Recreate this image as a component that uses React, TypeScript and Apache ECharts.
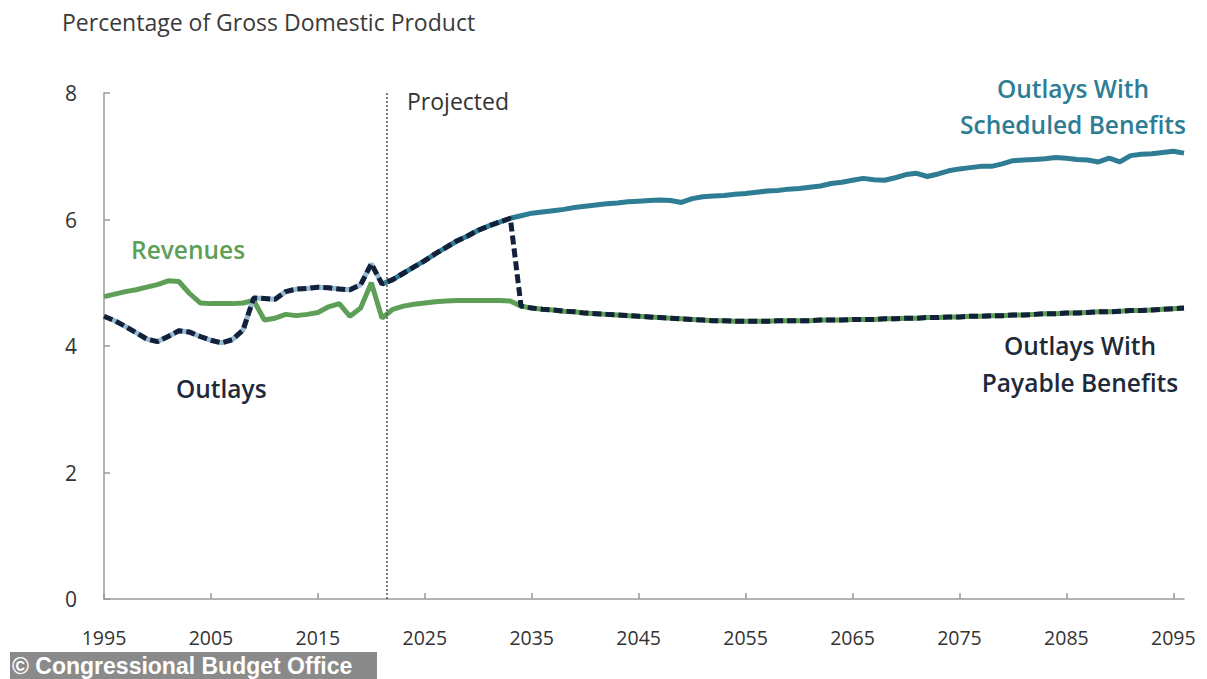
import React, { useEffect, useRef } from "react";
import * as echarts from "echarts";

// ---- data (percentage of GDP) ----
const FIRST_YEAR = 1995;
const LAST_HIST_YEAR = 2021;
const EXHAUST_YEAR = 2034;
const LAST_YEAR = 2096;
const PROJECTED_AT = 2021.4;

const xTickYears = [1995, 2005, 2015, 2025, 2035, 2045, 2055, 2065, 2075, 2085, 2095];
const yTicks = [0, 2, 4, 6, 8];

// 1995–2021
const outlaysHistorical = [
  4.47, 4.4, 4.31, 4.21, 4.11, 4.07, 4.15, 4.24, 4.22, 4.15,
  4.09, 4.05, 4.1, 4.25, 4.76, 4.75, 4.74, 4.86, 4.9, 4.91,
  4.93, 4.92, 4.9, 4.89, 4.97, 5.3, 4.98,
];

// 2022–2096
const scheduledProjected = [
  5.05, 5.15, 5.25, 5.35, 5.46, 5.56, 5.66, 5.74, 5.83, 5.9,
  5.96, 6.02, 6.06, 6.1, 6.12, 6.14, 6.16, 6.19, 6.21, 6.23,
  6.25, 6.26, 6.28, 6.29, 6.3, 6.31, 6.3, 6.27, 6.33, 6.36,
  6.37, 6.38, 6.4, 6.41, 6.43, 6.45, 6.46, 6.48, 6.49, 6.51,
  6.53, 6.57, 6.59, 6.62, 6.65, 6.63, 6.62, 6.66, 6.71, 6.73,
  6.68, 6.72, 6.77, 6.8, 6.82, 6.84, 6.84, 6.88, 6.93, 6.94,
  6.95, 6.96, 6.98, 6.97, 6.95, 6.94, 6.91, 6.97, 6.91, 7.01,
  7.03, 7.04, 7.06, 7.08, 7.05,
];

// 1995–2033
const revenuesToExhaustion = [
  4.78, 4.82, 4.86, 4.89, 4.93, 4.97, 5.03, 5.02, 4.83, 4.68,
  4.67, 4.67, 4.67, 4.68, 4.72, 4.41, 4.44, 4.5, 4.48, 4.5,
  4.53, 4.62, 4.67, 4.47, 4.6, 5.0, 4.44, 4.58, 4.63, 4.66,
  4.68, 4.7, 4.71, 4.72, 4.72, 4.72, 4.72, 4.72, 4.71,
];

// 2034–2096 (payable benefits = revenues)
const payableFromExhaustion = [
  4.63, 4.6, 4.58, 4.57, 4.55, 4.54, 4.52, 4.51, 4.5, 4.49,
  4.48, 4.47, 4.46, 4.45, 4.44, 4.43, 4.42, 4.41, 4.4, 4.4,
  4.39, 4.39, 4.39, 4.39, 4.4, 4.4, 4.4, 4.4, 4.41, 4.41,
  4.41, 4.42, 4.42, 4.42, 4.43, 4.43, 4.44, 4.44, 4.45, 4.45,
  4.46, 4.46, 4.47, 4.47, 4.48, 4.48, 4.49, 4.49, 4.5, 4.51,
  4.51, 4.52, 4.52, 4.53, 4.54, 4.54, 4.55, 4.56, 4.56, 4.57,
  4.58, 4.59, 4.6,
];

const pairs = (start: number, vals: number[]) => vals.map((v, i) => [start + i, v]);

const COLORS = {
  green: "#5d9f57",
  teal: "#2e7d94",
  lightBlue: "#93b8cf",
  navy: "#13203a",
  axis: "#9a9a9a",
  text: "#333333",
  dark: "#1e2a3a",
};

const FONT = "'Open Sans', 'Noto Sans', sans-serif";

export default function App() {
  const ref = useRef<HTMLDivElement>(null);

  useEffect(() => {
    if (!ref.current) return;
    const chart = echarts.init(ref.current, null, { renderer: "svg" });

    const revenues = [
      ...pairs(FIRST_YEAR, revenuesToExhaustion),
      ...pairs(EXHAUST_YEAR, payableFromExhaustion),
    ];
    const historical = pairs(FIRST_YEAR, outlaysHistorical);
    const scheduled = [
      [LAST_HIST_YEAR, outlaysHistorical[outlaysHistorical.length - 1]],
      ...pairs(LAST_HIST_YEAR + 1, scheduledProjected),
    ];
    const preExhaust = scheduledProjected.slice(0, EXHAUST_YEAR - (LAST_HIST_YEAR + 1));
    const payable = [
      ...pairs(FIRST_YEAR, outlaysHistorical),
      ...pairs(LAST_HIST_YEAR + 1, preExhaust),
      ...pairs(EXHAUST_YEAR, payableFromExhaustion),
    ];

    const lineSeries = (name: string, data: number[][], style: any, z: number) => ({
      name,
      type: "line",
      data,
      showSymbol: false,
      symbol: "none",
      z,
      lineStyle: style,
      emphasis: { disabled: true },
    });

    const label = (text: string, x: number, y: number, fill: string, font: string, align = "center") => ({
      type: "text",
      x,
      y,
      style: { text, font, fill, align, verticalAlign: "middle" },
    });

    const LABEL_FONT = `600 24.5px ${FONT}`;

    chart.setOption({
      animation: false,
      backgroundColor: "#ffffff",
      grid: { left: 104, right: 23, top: 93, bottom: 80, containLabel: false },
      xAxis: {
        type: "value",
        min: FIRST_YEAR,
        max: LAST_YEAR,
        splitLine: { show: false },
        axisLine: { show: true, lineStyle: { color: COLORS.axis, width: 1.5 } },
        axisTick: {
          show: true,
          inside: true,
          length: 6,
          customValues: xTickYears,
          lineStyle: { color: COLORS.axis, width: 1.5 },
        },
        axisLabel: {
          customValues: xTickYears,
          margin: 28,
          color: COLORS.text,
          fontSize: 19.5,
          fontFamily: FONT,
          formatter: (v: number) => String(v),
        },
      },
      yAxis: {
        type: "value",
        min: 0,
        max: 8,
        interval: 2,
        splitLine: { show: false },
        axisLine: { show: true, lineStyle: { color: COLORS.axis, width: 1.5 } },
        axisTick: { show: true, inside: true, length: 6, lineStyle: { color: COLORS.axis, width: 1.5 } },
        axisLabel: {
          customValues: yTicks,
          margin: 27,
          color: COLORS.text,
          fontSize: 21,
          fontFamily: FONT,
        },
      },
      series: [
        {
          ...lineSeries("Revenues", revenues, { color: COLORS.green, width: 5 }, 2),
          markLine: {
            silent: true,
            symbol: "none",
            label: { show: false },
            lineStyle: { color: "#555555", type: [2, 2], width: 1.5 },
            data: [{ xAxis: PROJECTED_AT }],
          },
        },
        lineSeries("Outlays (historical)", historical, { color: COLORS.lightBlue, width: 5 }, 3),
        lineSeries("Outlays With Scheduled Benefits", scheduled, { color: COLORS.teal, width: 5 }, 3),
        lineSeries(
          "Outlays With Payable Benefits",
          payable,
          { color: COLORS.navy, width: 5, type: [9, 4], cap: "butt" },
          4
        ),
      ],
      graphic: [
        label("Percentage of Gross Domestic Product", 62, 22, "#3a3a3a", `23px ${FONT}`, "left"),
        label("Projected", 407, 101, "#333333", `23px ${FONT}`, "left"),
        label("Revenues", 131, 249, COLORS.green, LABEL_FONT, "left"),
        label("Outlays", 176, 388, COLORS.dark, LABEL_FONT, "left"),
        label("Outlays With", 1073, 88, COLORS.teal, LABEL_FONT),
        label("Scheduled Benefits", 1073, 124, COLORS.teal, LABEL_FONT),
        label("Outlays With", 1080, 345, COLORS.dark, LABEL_FONT),
        label("Payable Benefits", 1080, 382, COLORS.dark, LABEL_FONT),
        {
          type: "rect",
          shape: { x: 10, y: 652, width: 367, height: 27 },
          style: { fill: "#8a8a8a" },
        },
        label(
          "© Congressional Budget Office",
          12,
          666,
          "#ffffff",
          `bold 23px 'Liberation Sans', Arial, sans-serif`,
          "left"
        ),
      ],
    });

    return () => chart.dispose();
  }, []);

  return (
    <div
      ref={ref}
      style={{ position: "fixed", left: 0, top: 0, width: 1207, height: 679, background: "#fff" }}
    />
  );
}
